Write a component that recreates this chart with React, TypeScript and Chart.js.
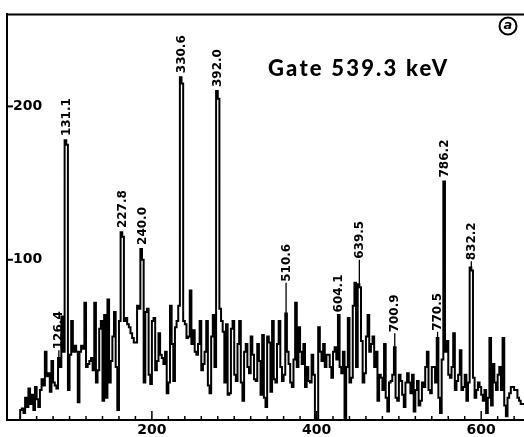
import React, { useEffect, useRef } from 'react';
import { Chart, registerables } from 'chart.js';

Chart.register(...registerables);

// Channel (bin centre) of each spectrum step
const channels = [
  39, 41, 43, 45, 47, 49, 51, 53, 55, 57, 59, 61, 63, 65, 67, 69, 71, 73, 75, 77,
  79, 81, 83, 85, 87, 89, 91, 93, 95, 97, 99, 101, 103, 105, 107, 109, 111, 113, 115, 117,
  119, 121, 123, 125, 127, 129, 131, 133, 135, 137, 139, 141, 143, 145, 147, 149, 151, 153, 155, 157,
  159, 161, 163, 165, 167, 169, 171, 173, 175, 177, 179, 181, 183, 185, 187, 189, 191, 193, 195, 197,
  199, 201, 203, 205, 207, 209, 211, 213, 215, 217, 219, 221, 223, 225, 227, 229, 231, 233, 235, 237,
  239, 241, 243, 245, 247, 249, 251, 253, 255, 257, 259, 261, 263, 265, 267, 269, 271, 273, 275, 277,
  279, 281, 283, 285, 287, 289, 291, 293, 295, 297, 299, 301, 303, 305, 307, 309, 311, 313, 315, 317,
  319, 321, 323, 325, 327, 329, 331, 333, 335, 337, 339, 341, 343, 345, 347, 349, 351, 353, 355, 357,
  359, 361, 363, 365, 367, 369, 371, 373, 375, 377, 379, 381, 383, 385, 387, 389, 391, 393, 395, 397,
  399, 401, 403, 405, 407, 409, 411, 413, 415, 417, 419, 421, 423, 425, 427, 429, 431, 433, 435, 437,
  439, 441, 443, 445, 447, 449, 451, 453, 455, 457, 459, 461, 463, 465, 467, 469, 471, 473, 475, 477,
  479, 481, 483, 485, 487, 489, 491, 493, 495, 497, 499, 501, 503, 505, 507, 509, 511, 513, 515, 517,
  519, 521, 523, 525, 527, 529, 531, 533, 535, 537, 539, 541, 543, 545, 547, 549, 551, 553, 555, 557,
  559, 561, 563, 565, 567, 569, 571, 573, 575, 577, 579, 581, 583, 585, 587, 589, 591, 593, 595, 597,
  599, 601, 603, 605, 607, 609, 611, 613, 615, 617, 619, 621, 623, 625, 627, 629, 631, 633, 635, 637,
  639, 641, 643, 645, 647, 649, 651, 653,
];

// Counts per channel bin
const counts = [
  -3, 2, 3, 0, 10, 4, 16, 6, 12, 2, 17, 9, 4, 15, 22, 18, 40, 24, 26, 14,
  34, 20, 18, 16, 36, 30, 63, 40, 178, 175, 15, 38, 60, 40, 44, 40, 7, 40, 44, 42,
  72, 30, 32, 34, 36, 28, 72, 20, 28, 55, 60, 8, 64, 10, 74, 20, 34, 50, 66, 30,
  2, 60, 118, 115, 60, 62, 58, 56, 52, 49, 46, 46, 70, 68, 107, 100, 20, 66, 68, 25,
  19, 60, 62, 28, 34, 52, 38, 36, 32, 40, 13, 20, 70, 45, 21, 56, 60, 70, 219, 215,
  60, 58, 49, 50, 80, 45, 54, 40, 38, 45, 60, 28, 32, 40, 60, 18, 13, 50, 64, 30,
  210, 205, 68, 60, 53, 20, 58, 12, 13, 55, 60, 25, 21, 45, 60, 20, 8, 40, 45, 30,
  26, 50, 38, 22, 21, 45, 34, 12, 51, 10, 4, 50, 46, 14, 60, 22, 20, 45, 60, 30,
  21, 25, 65, 40, 32, 20, 17, 35, 72, 30, 56, 40, 32, 45, 17, 30, 21, 20, 38, 25,
  -4, -4, 56, 40, 34, 45, 30, 38, 38, 30, 23, 40, 43, 35, 64, 30, 26, 40, -4, 30,
  62, 20, 23, 70, 85, 30, 84, 82, 47, 20, 26, 50, 64, 40, 45, 50, 30, 40, 8, 25,
  23, 15, 45, 10, 1, 20, 21, 25, 43, 10, 8, 25, 21, 12, 4, 20, 26, 20, 13, 25,
  1, 15, 21, 5, 8, 20, 17, 30, 40, 15, 13, 30, 30, 20, 49, 10, 0, 35, 151, 40,
  47, 25, 23, 30, 52, 15, 21, 25, 41, 15, 17, 25, 8, 20, 95, 93, 23, 10, 15, 20,
  17, 12, 8, 15, 0, 10, 49, 5, 32, 20, 15, 25, 30, 15, 49, 5, -2, 10, 13, 17,
  17, 15, 15, 10, 8, 6, 6, 6,
];

const xTickValues = [200, 400, 600];
const yTickValues = [100, 200];

// Peak energy labels (keV), the channel they sit on, and the count level where the label starts
const peakLabels = ['126.4', '131.1', '227.8', '240.0', '330.6', '392.0', '510.6', '604.1', '639.5', '700.9', '770.5', '786.2', '832.2'];
const peakChannels = [87, 96, 164, 188, 236, 280, 363, 427, 452, 495, 547, 555, 588];
const labelBases = [41, 180, 120, 109, 221, 212, 85, 65, 100, 52, 53, 153, 99];

const titleText = 'Gate 539.3 keV';
const panelTag = 'a';

function valueAt(ch: number): number {
  let best = 0;
  let bd = Infinity;
  for (let i = 0; i < channels.length; i++) {
    const d = Math.abs(channels[i] - ch);
    if (d < bd) { bd = d; best = i; }
  }
  return counts[best];
}

const decorPlugin = {
  id: 'decor',
  afterDraw(chart: any) {
    const { ctx, chartArea: a } = chart;
    const xs = chart.scales.x;
    const ys = chart.scales.y;
    ctx.save();
    ctx.strokeStyle = '#000';
    ctx.fillStyle = '#000';

    // top frame line
    ctx.lineWidth = 2;
    ctx.beginPath();
    ctx.moveTo(a.left - 1, a.top);
    ctx.lineTo(a.right, a.top);
    ctx.stroke();

    // inward x ticks
    ctx.lineWidth = 1.5;
    for (let v = 40; v <= 640; v += 20) {
      const px = xs.getPixelForValue(v);
      const len = v % 200 === 0 ? 9 : 4;
      ctx.beginPath();
      ctx.moveTo(px, a.bottom);
      ctx.lineTo(px, a.bottom - len);
      ctx.stroke();
    }
    // inward y ticks
    ctx.lineWidth = 2;
    yTickValues.forEach((v) => {
      const py = ys.getPixelForValue(v);
      ctx.beginPath();
      ctx.moveTo(a.left, py);
      ctx.lineTo(a.left + 6, py);
      ctx.stroke();
    });

    // peak labels
    ctx.font = "bold 12px 'DejaVu Sans'";
    ctx.textAlign = 'left';
    ctx.textBaseline = 'middle';
    peakLabels.forEach((lab, i) => {
      const px = xs.getPixelForValue(peakChannels[i]);
      const v = valueAt(peakChannels[i]);
      const base = labelBases[i];
      const pyBase = ys.getPixelForValue(base);
      if (base - v > 3) {
        ctx.lineWidth = 1.3;
        ctx.beginPath();
        ctx.moveTo(px, ys.getPixelForValue(v));
        ctx.lineTo(px, pyBase);
        ctx.stroke();
      }
      ctx.save();
      ctx.translate(px, pyBase - 1);
      ctx.rotate(-Math.PI / 2);
      ctx.fillText(lab, 0, 0.5);
      ctx.restore();
    });

    // title
    ctx.font = "900 22px Lato";
    (ctx as any).letterSpacing = '2.2px';
    ctx.textAlign = 'left';
    ctx.textBaseline = 'alphabetic';
    ctx.fillText(titleText, 268, 76);
    (ctx as any).letterSpacing = '0px';

    // panel tag
    ctx.lineWidth = 2;
    ctx.beginPath();
    ctx.arc(508, 26, 8.5, 0, Math.PI * 2);
    ctx.stroke();
    ctx.font = "italic bold 13px 'DejaVu Sans'";
    ctx.textAlign = 'center';
    ctx.textBaseline = 'middle';
    ctx.fillText(panelTag, 508, 26);

    ctx.restore();
  },
};

export default function App() {
  const ref = useRef<HTMLCanvasElement | null>(null);

  useEffect(() => {
    if (!ref.current) return;
    const chart = new Chart(ref.current, {
      type: 'line',
      data: {
        datasets: [
          {
            data: channels.map((c, i) => ({ x: c, y: counts[i] })),
            stepped: 'middle',
            borderColor: '#000',
            borderWidth: 2,
            pointRadius: 0,
            fill: false,
          },
        ],
      },
      options: {
        animation: false,
        responsive: false,
        devicePixelRatio: 1,
        events: [],
        layout: { padding: { left: 7, top: 10, right: 0, bottom: 0 } },
        plugins: { legend: { display: false }, tooltip: { enabled: false } },
        scales: {
          x: {
            type: 'linear',
            min: 24,
            max: 652,
            afterBuildTicks: (s: any) => { s.ticks = xTickValues.map((v) => ({ value: v })); },
            afterFit: (s: any) => { s.height = 17; },
            grid: { display: false, drawTicks: false },
            border: { display: true, color: '#000', width: 2 },
            ticks: {
              color: '#000',
              font: { family: 'DejaVu Sans', size: 14, weight: 'bold' },
              padding: 2,
              maxRotation: 0,
              autoSkip: false,
            },
          },
          y: {
            type: 'linear',
            min: -4.5,
            max: 260,
            afterBuildTicks: (s: any) => { s.ticks = yTickValues.map((v) => ({ value: v })); },
            afterFit: (s: any) => { s.width = 0; },
            grid: { display: false, drawTicks: false },
            border: { display: true, color: '#000', width: 2 },
            ticks: {
              mirror: true,
              color: '#000',
              font: { family: 'DejaVu Sans', size: 14, weight: 'bold' },
              padding: 6,
            },
          },
        },
      },
      plugins: [decorPlugin],
    } as any);
    return () => chart.destroy();
  }, []);

  return (
    <div style={{ position: 'fixed', left: 0, top: 0, width: 524, height: 437, background: '#fff' }}>
      <canvas ref={ref} width={524} height={437} style={{ display: 'block' }} />
    </div>
  );
}
